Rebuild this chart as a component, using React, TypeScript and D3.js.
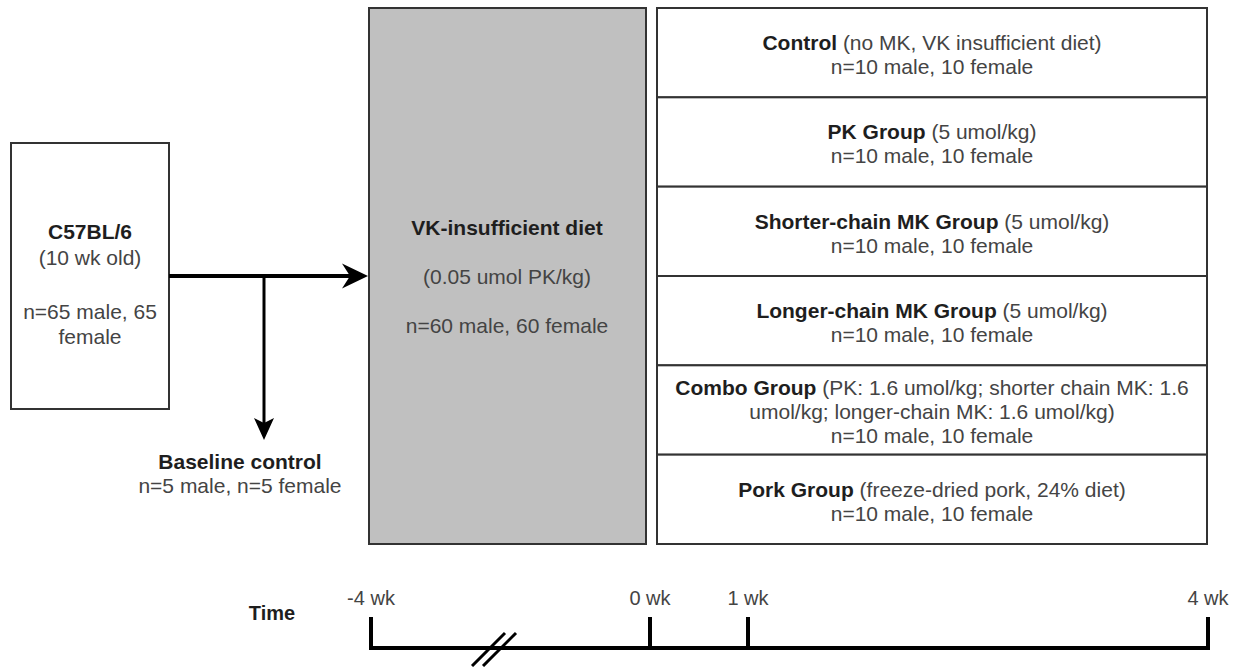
import React, { useEffect, useRef } from "react";
import * as d3 from "d3";

// study design diagram: treatment groups + timeline
const groups = ["Control", "PK Group", "Shorter-chain MK Group", "Longer-chain MK Group", "Combo Group", "Pork Group"];
const groupDetails = [
  ["(no MK, VK insufficient diet)"],
  ["(5 umol/kg)"],
  ["(5 umol/kg)"],
  ["(5 umol/kg)"],
  ["(PK: 1.6 umol/kg; shorter chain MK: 1.6", "umol/kg; longer-chain MK: 1.6 umol/kg)"],
  ["(freeze-dried pork, 24% diet)"],
];
const groupCounts = ["n=10 male, 10 female", "n=10 male, 10 female", "n=10 male, 10 female", "n=10 male, 10 female", "n=10 male, 10 female", "n=10 male, 10 female"];

const startLines = ["C57BL/6", "(10 wk old)", "", "n=65 male, 65", "female"];
const baselineLines = ["Baseline control", "n=5 male, n=5 female"];
const dietLines = ["VK-insufficient diet", "(0.05 umol PK/kg)", "n=60 male, 60 female"];

const timePoints = [-4, 0, 1, 4];
const timeLabels = ["-4 wk", "0 wk", "1 wk", "4 wk"];

const FONT = "'Liberation Sans', Arial, sans-serif";
const FS = "21px";
const DARK = "#1e1e1e";
const GREY_TXT = "#444";

function arrowHead(tipX: number, tipY: number, dir: "right" | "down", len: number, half: number, notch: number) {
  const p = d3.path();
  if (dir === "right") {
    p.moveTo(tipX, tipY);
    p.lineTo(tipX - len, tipY - half);
    p.lineTo(tipX - len + notch, tipY);
    p.lineTo(tipX - len, tipY + half);
  } else {
    p.moveTo(tipX, tipY);
    p.lineTo(tipX - half, tipY - len);
    p.lineTo(tipX, tipY - len + notch);
    p.lineTo(tipX + half, tipY - len);
  }
  p.closePath();
  return p.toString();
}

export default function App() {
  const ref = useRef<SVGSVGElement>(null);

  useEffect(() => {
    document.body.style.margin = "0";
    const width = 1233;
    const height = 667;
    const svg = d3.select(ref.current).attr("width", width).attr("height", height);
    svg.selectAll("*").remove();
    svg.append("rect").attr("width", width).attr("height", height).attr("fill", "#fff");

    // group rows
    const rowX0 = 657, rowX1 = 1207;
    const yRow = d3.scaleBand<string>().domain(groups).range([8, 544]);
    const rows = svg.append("g").attr("class", "groups");
    rows.selectAll("rect").data(groups).join("rect")
      .attr("x", rowX0).attr("y", d => yRow(d)!)
      .attr("width", rowX1 - rowX0).attr("height", yRow.bandwidth())
      .attr("fill", "#fff").attr("stroke", "#333").attr("stroke-width", 2);

    const lh = 24;
    groups.forEach((g, i) => {
      const details = groupDetails[i];
      const nLines = details.length + 1;
      const cy = yRow(g)! + yRow.bandwidth() / 2 + 2;
      const cx = (rowX0 + rowX1) / 2;
      const top = cy - ((nLines - 1) * lh) / 2;
      const t1 = rows.append("text").attr("x", cx).attr("y", top).attr("dy", "0.35em")
        .attr("text-anchor", "middle").style("font-family", FONT).style("font-size", FS);
      t1.append("tspan").attr("font-weight", "bold").attr("fill", DARK).text(g);
      t1.append("tspan").attr("fill", GREY_TXT).text(" " + details[0]);
      details.slice(1).forEach((l, j) => {
        rows.append("text").attr("x", cx).attr("y", top + (j + 1) * lh).attr("dy", "0.35em")
          .attr("text-anchor", "middle").style("font-family", FONT).style("font-size", FS)
          .attr("fill", GREY_TXT).text(l);
      });
      rows.append("text").attr("x", cx).attr("y", top + (nLines - 1) * lh).attr("dy", "0.35em")
        .attr("text-anchor", "middle").style("font-family", FONT).style("font-size", FS)
        .attr("fill", GREY_TXT).text(groupCounts[i]);
    });

    // diet box
    svg.append("rect").attr("x", 369).attr("y", 8).attr("width", 277).attr("height", 536)
      .attr("fill", "#c0c0c0").attr("stroke", "#333").attr("stroke-width", 2);
    const dietY = [228, 277, 326];
    dietLines.forEach((l, i) => {
      svg.append("text").attr("x", 507).attr("y", dietY[i]).attr("dy", "0.35em")
        .attr("text-anchor", "middle").style("font-family", FONT).style("font-size", FS)
        .attr("font-weight", i === 0 ? "bold" : "normal")
        .attr("fill", i === 0 ? DARK : GREY_TXT).text(l);
    });

    // starting cohort box
    svg.append("rect").attr("x", 11).attr("y", 143).attr("width", 158).attr("height", 266)
      .attr("fill", "#fff").attr("stroke", "#333").attr("stroke-width", 2);
    const startY = [232, 258, 285, 312, 337];
    startLines.forEach((l, i) => {
      svg.append("text").attr("x", 90).attr("y", startY[i]).attr("dy", "0.35em")
        .attr("text-anchor", "middle").style("font-family", FONT).style("font-size", FS)
        .attr("font-weight", i === 0 ? "bold" : "normal")
        .attr("fill", i === 0 ? DARK : GREY_TXT).text(l);
    });

    // arrows
    svg.append("line").attr("x1", 169).attr("y1", 276).attr("x2", 350).attr("y2", 276)
      .attr("stroke", "#000").attr("stroke-width", 4);
    svg.append("path").attr("d", arrowHead(368, 276, "right", 26, 12.5, 8)).attr("fill", "#000");
    svg.append("line").attr("x1", 264).attr("y1", 276).attr("x2", 264).attr("y2", 424)
      .attr("stroke", "#000").attr("stroke-width", 3);
    svg.append("path").attr("d", arrowHead(264, 440, "down", 22, 10, 5)).attr("fill", "#000");

    const baseY = [462, 486];
    baselineLines.forEach((l, i) => {
      svg.append("text").attr("x", 240).attr("y", baseY[i]).attr("dy", "0.35em")
        .attr("text-anchor", "middle").style("font-family", FONT).style("font-size", FS)
        .attr("font-weight", i === 0 ? "bold" : "normal")
        .attr("fill", i === 0 ? DARK : GREY_TXT).text(l);
    });

    // timeline
    const xTime = d3.scaleLinear().domain(timePoints).range([371, 650, 748, 1208]);
    const lineY = 648;
    const tl = svg.append("g").attr("class", "timeline");
    tl.append("line").attr("x1", xTime(-4) - 2).attr("x2", xTime(4) + 2).attr("y1", lineY).attr("y2", lineY)
      .attr("stroke", "#000").attr("stroke-width", 4);
    tl.selectAll(".tick").data(timePoints).join("line").attr("class", "tick")
      .attr("x1", d => xTime(d)).attr("x2", d => xTime(d))
      .attr("y1", 617).attr("y2", lineY + 2)
      .attr("stroke", "#000").attr("stroke-width", 4);
    tl.selectAll(".tlabel").data(timePoints).join("text").attr("class", "tlabel")
      .attr("x", d => xTime(d)).attr("y", 598).attr("dy", "0.35em")
      .attr("text-anchor", "middle").style("font-family", FONT).style("font-size", "20px")
      .attr("fill", GREY_TXT).text((d, i) => timeLabels[i]);
    tl.append("text").attr("x", 272).attr("y", 613).attr("dy", "0.35em")
      .attr("text-anchor", "middle").style("font-family", FONT).style("font-size", "20px")
      .attr("font-weight", "bold").attr("fill", DARK).text("Time");
    // axis break
    [0, 11].forEach(off => {
      tl.append("line").attr("x1", 472 + off).attr("y1", 666).attr("x2", 505 + off).attr("y2", 633)
        .attr("stroke", "#000").attr("stroke-width", 3);
    });
  }, []);

  return <svg ref={ref} style={{ display: "block" }} />;
}
